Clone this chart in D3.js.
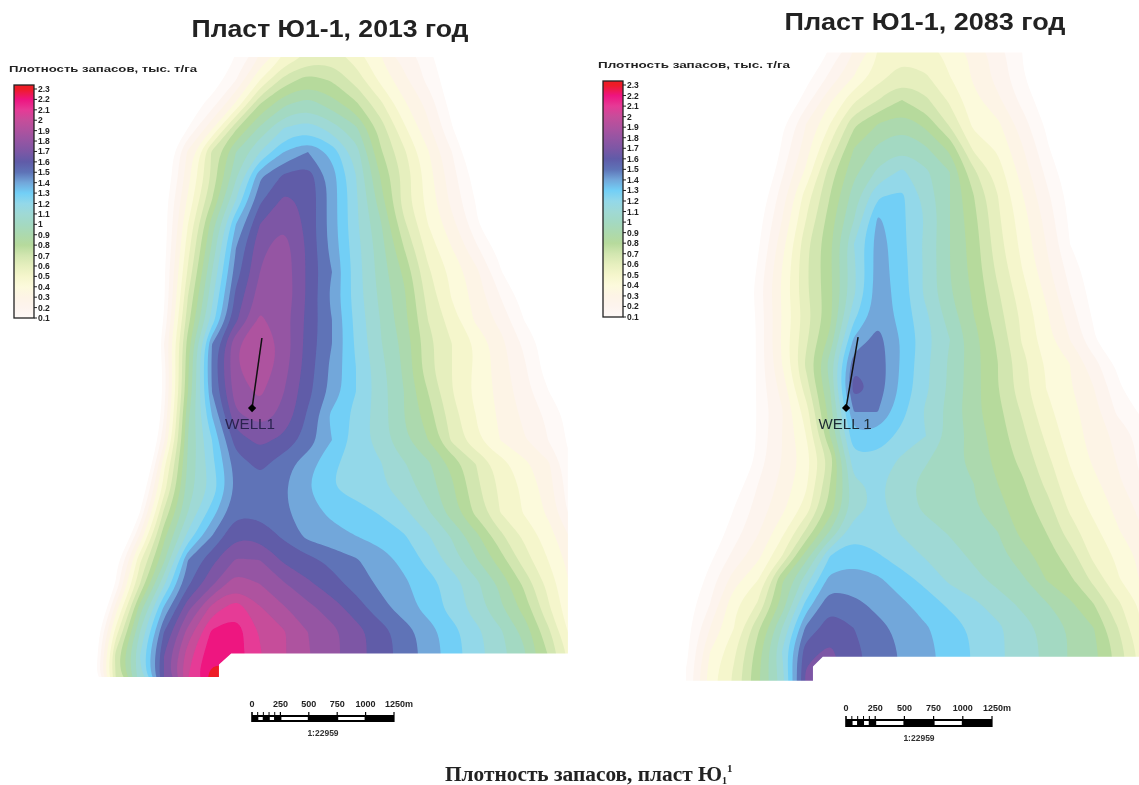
<!DOCTYPE html>
<html><head><meta charset="utf-8">
<style>html,body{margin:0;padding:0;background:#fff}svg{display:block}</style>
<script src="https://cdn.jsdelivr.net/npm/d3@7"></script></head>
<body><svg id="c" width="1139" height="785"></svg>
<script>
const titles = ["Пласт Ю1-1, 2013 год", "Пласт Ю1-1, 2083 год"];
const legendTitle = "Плотность запасов, тыс. т/га";
const wellName = ["WELL1", "WELL 1"];
const scaleRatio = "1:22959";
const scaleMetres = [0, 250, 500, 750, 1000, 1250];
const caption = "Плотность запасов, пласт Ю";
const levels = [0.1,0.2,0.3,0.4,0.5,0.6,0.7,0.8,0.9,1,1.1,1.2,1.3,1.4,1.5,1.6,1.7,1.8,1.9,2,2.1,2.2,2.3];
const levelColors = ["#fef9f7","#fdf4ee","#fdf4e6","#fcfadc","#f5f6cc","#e6efbe","#d2e6b0","#b6da9c","#acd9ae","#a3d9c2","#9fd9d5","#93d8e9","#72cff6","#72a7da","#5e73b7","#605ba8","#7d57a5","#9555a3","#ae529f","#c64d9a","#e63a96","#ee1480","#ee1c26"];

// Reservoir density, rows top to bottom, columns left to right.
// Negative cells lie outside the mapped field and only place its outer edge.
const density2013 = [
[0,0,0,0,0,-.1,.1,.3,.5,.62,.65,.55,.4,.25,.16,-.1,0,0,0,0,0],
[0,0,0,0,-.2,.02,.2,.5,.74,.85,.79,.66,.48,.33,.17,.03,-.2,0,0,0,0],
[0,0,0,-.2,.02,.15,.42,.8,.98,1.05,.95,.82,.63,.42,.27,.05,-.2,0,0,0,0],
[0,0,0,-.2,.1,.38,.78,1.02,1.2,1.26,1.15,1.02,.76,.52,.32,.11,-.2,0,0,0,0],
[0,0,-.3,-.03,.32,.72,1,1.2,1.4,1.5,1.36,1.15,.82,.62,.41,.2,-.03,0,0,0,0],
[0,0,-.3,-.03,.36,.72,1.08,1.48,1.62,1.66,1.45,1.2,.9,.67,.45,.24,.05,-.2,0,0,0],
[0,0,-.4,.04,.42,.8,1.2,1.58,1.72,1.68,1.45,1.22,.95,.65,.46,.27,.09,-.2,0,0,0],
[0,0,-.4,.04,.5,.95,1.4,1.7,1.79,1.67,1.45,1.22,1.02,.72,.5,.33,.13,-.2,0,0,0],
[0,0,-.4,.05,.56,1.02,1.5,1.78,1.85,1.68,1.46,1.24,1.05,.8,.56,.4,.22,.05,-.2,0,0],
[0,0,-.5,.08,.62,1.1,1.55,1.8,1.86,1.68,1.5,1.25,1.06,.88,.62,.47,.33,.12,-.2,0,0],
[0,0,-.5,.08,.7,1.17,1.63,1.85,1.87,1.68,1.47,1.25,1.08,.92,.66,.49,.36,.2,.05,-.2,0],
[0,0,-.5,.12,.76,1.24,1.68,1.92,1.84,1.67,1.5,1.27,1.1,.93,.7,.55,.38,.27,.1,-.2,0],
[0,0,-.45,.2,.85,1.5,1.89,1.99,1.86,1.66,1.5,1.28,1.11,.97,.74,.6,.49,.34,.18,.04,-.2],
[0,0,-.5,.15,.88,1.52,1.89,1.98,1.84,1.65,1.47,1.3,1.14,.98,.73,.6,.48,.35,.22,.04,-.2],
[0,0,-.5,.15,.9,1.5,1.86,1.92,1.8,1.63,1.47,1.3,1.15,1,.8,.6,.47,.37,.24,.11,-.15],
[0,0,-.5,.2,.98,1.4,1.78,1.84,1.78,1.58,1.37,1.27,1.15,1,.85,.65,.5,.38,.28,.18,.05],
[0,0,-.35,.27,1,1.3,1.65,1.73,1.67,1.56,1.4,1.26,1.15,1.02,.9,.68,.52,.4,.31,.2,.06],
[0,0,-.25,.47,1.02,1.27,1.55,1.63,1.54,1.44,1.32,1.25,1.21,1.11,1.02,.87,.7,.55,.43,.32,.1],
[0,-.3,-.05,.55,1.05,1.23,1.52,1.55,1.51,1.4,1.3,1.26,1.22,1.15,1.05,.92,.73,.58,.48,.35,.12],
[0,-.4,.1,.72,1.1,1.35,1.58,1.57,1.52,1.43,1.38,1.34,1.29,1.22,1.11,.95,.77,.6,.49,.38,.15],
[0,-.25,.32,.87,1.23,1.5,1.69,1.67,1.58,1.47,1.43,1.4,1.36,1.31,1.21,1.09,.93,.73,.58,.45,.28],
[-.2,.04,.58,.98,1.5,1.67,1.81,1.8,1.68,1.63,1.57,1.51,1.45,1.37,1.27,1.15,1.01,.85,.65,.5,.35],
[-.4,.12,.7,1.18,1.58,1.78,1.97,1.9,1.81,1.72,1.64,1.56,1.48,1.42,1.34,1.26,1.13,.98,.78,.57,.38],
[-.3,.35,.95,1.42,1.77,2.04,2.16,2.01,1.91,1.83,1.75,1.65,1.54,1.45,1.36,1.26,1.15,1.02,.86,.62,.4],
[-.1,.55,1.1,1.6,1.94,2.22,2.26,2.09,2.01,1.9,1.83,1.74,1.65,1.55,1.45,1.34,1.23,1.12,.97,.73,.45],
[-.1,.75,1.2,1.7,2.06,2.28,2.24,2.11,2.01,1.91,1.83,1.74,1.65,1.56,1.46,1.35,1.24,1.14,1.02,.8,.55],
[0,.7,1.15,1.7,2.1,2.36,2.34,2.11,2.01,1.91,1.83,1.74,1.65,1.56,1.46,1.35,1.24,1.14,1.02,.8,.55]
];
const density2083 = [
[0,0,0,0,0,-.2,.12,.3,.5,.55,.53,.48,.37,.25,.1,-.2,0,0,0,0],
[0,0,0,0,-.15,.05,.22,.4,.55,.66,.61,.5,.38,.26,.12,-.1,0,0,0,0],
[0,0,0,0,-.05,.15,.38,.58,.7,.8,.72,.58,.43,.32,.17,.03,-.2,0,0,0],
[0,0,0,-.2,.07,.3,.5,.78,.9,.97,.87,.68,.47,.42,.25,.08,-.2,0,0,0],
[0,0,0,-.2,.12,.35,.62,.9,1.02,1.09,1.01,.87,.57,.48,.31,.13,-.1,0,0,0],
[0,0,0,-.1,.18,.42,.75,.97,1.12,1.22,1.12,1,.72,.55,.36,.18,.02,-.2,0,0],
[0,0,-.2,0,.25,.55,.8,1.05,1.29,1.32,1.16,1,.8,.6,.41,.23,.06,-.2,0,0],
[0,0,-.2,.05,.3,.6,.85,1.1,1.42,1.32,1.19,1,.83,.62,.45,.27,.08,-.2,0,0],
[0,0,-.2,.08,.36,.67,.88,1.2,1.45,1.33,1.17,1,.85,.64,.47,.3,.1,-.2,0,0],
[0,0,-.2,.12,.4,.68,.88,1.18,1.45,1.34,1.18,1,.86,.67,.5,.33,.16,.02,-.2,0],
[0,0,-.1,.15,.42,.68,.87,1.18,1.46,1.35,1.17,1.01,.88,.71,.54,.38,.2,.05,-.2,0],
[0,0,-.15,.13,.4,.65,.87,1.27,1.47,1.36,1.22,1.05,.9,.74,.58,.42,.25,.08,-.2,0],
[0,0,-.2,.13,.42,.68,.93,1.42,1.54,1.39,1.24,1.1,.94,.78,.59,.44,.3,.12,-.15,0],
[0,0,-.2,.13,.4,.72,1.05,1.58,1.56,1.38,1.22,1.08,.94,.8,.64,.49,.4,.24,.07,-.2],
[0,0,-.2,.13,.34,.65,1,1.66,1.56,1.37,1.22,1.08,.94,.8,.64,.5,.41,.3,.13,-.05],
[0,0,-.2,.12,.29,.55,.95,1.5,1.5,1.33,1.18,1.06,.93,.83,.69,.53,.44,.34,.18,.08],
[0,0,-.2,.13,.3,.5,.9,1.38,1.36,1.27,1.2,1.07,.96,.85,.73,.58,.45,.36,.27,.16],
[0,0,-.2,.15,.3,.45,.73,1.27,1.27,1.18,1.11,1.04,.96,.87,.77,.63,.49,.38,.29,.17],
[0,-.2,.03,.2,.33,.48,.8,1.18,1.22,1.13,1.07,1.02,1,.9,.82,.68,.53,.43,.32,.2],
[0,-.15,.1,.24,.37,.54,.84,1.15,1.23,1.14,1.08,1.05,1.01,.93,.85,.75,.58,.47,.37,.27],
[-.15,.01,.15,.29,.47,.72,1.01,1.27,1.24,1.19,1.14,1.09,1.05,1,.87,.8,.65,.53,.41,.3],
[-.15,.07,.23,.37,.6,.95,1.3,1.37,1.31,1.25,1.19,1.14,1.08,1.03,.95,.85,.75,.57,.48,.37],
[-.05,.15,.35,.5,.89,1.15,1.44,1.44,1.42,1.34,1.27,1.18,1.13,1.07,1.02,.9,.82,.67,.51,.38],
[.03,.2,.48,.61,.93,1.33,1.58,1.53,1.47,1.42,1.35,1.28,1.22,1.15,1.08,1.01,.92,.8,.62,.48],
[.05,.3,.5,.78,1.1,1.52,1.65,1.6,1.53,1.47,1.41,1.35,1.28,1.22,1.14,1.07,.99,.9,.7,.49],
[.07,.4,.58,.85,1.2,1.67,1.72,1.63,1.55,1.49,1.43,1.36,1.29,1.22,1.15,1.08,.99,.93,.76,.55],
[.1,.45,.62,.88,1.15,1.72,1.75,1.63,1.55,1.49,1.43,1.36,1.29,1.22,1.15,1.08,.99,.93,.76,.55],
[.1,.45,.62,.88,1.15,1.72,1.75,1.63,1.55,1.49,1.43,1.36,1.29,1.22,1.15,1.08,.99,.93,.76,.55]
];
// Well track and outline of the mapped area, in grid cell units.
const wellTrack2013 = [[7.08,11.75],[6.67,14.67]];
const wellTrack2083 = [[7.17,11.88],[6.67,14.83]];
const outline2013 = [[0,.04],[19.83,.04],[19.83,24.9],[5.8,24.9],[5.29,25.35],[5.29,25.88],[0,25.88]];
const outline2083 = [[0,.02],[18.96,.02],[18.96,25.2],[5.7,25.2],[5.29,25.6],[5.29,26.2],[0,26.2]];

const svg = d3.select("#c");
const sans = "'Liberation Sans',Arial,sans-serif";
const defs = svg.append("defs");
const soft = defs.append("filter").attr("id","soft").attr("x","-5%").attr("y","-20%").attr("width","110%").attr("height","140%");
soft.append("feGaussianBlur").attr("stdDeviation",0.45);
const mapSoft = defs.append("filter").attr("id","mapSoft");
mapSoft.append("feGaussianBlur").attr("stdDeviation",0.5);

function drawMap(o){
  const rows=o.grid.length, cols=o.grid[0].length;
  const x=d3.scaleLinear().domain([0,cols-1]).range([o.x0,o.x0+o.step*(cols-1)]);
  const y=d3.scaleLinear().domain([0,rows-1]).range([o.y0,o.y0+o.step*(rows-1)]);
  const contours=d3.contours().size([cols,rows]).thresholds(levels).smooth(true)(o.grid.flat());
  const color=d3.scaleOrdinal().domain(levels).range(levelColors);
  const ringLine=d3.line().x(p=>x(p[0]-.5)).y(p=>y(p[1]-.5)).curve(d3.curveBasisClosed);
  const path=d=>d.coordinates.flatMap(poly=>poly.map(r=>ringLine(r.slice(0,-1)))).join("");
  defs.append("clipPath").attr("id","clip"+o.id).append("polygon")
    .attr("points",o.outline.map(p=>[x(p[0]),y(p[1])].join(",")).join(" "));
  svg.append("g").attr("clip-path",`url(#clip${o.id})`).append("g").attr("filter","url(#mapSoft)")
    .selectAll("path").data(contours).join("path")
    .attr("d",path).attr("fill-rule","evenodd").attr("fill",d=>color(d.value));

  // well
  svg.append("path").attr("d",d3.line().x(d=>x(d[0])).y(d=>y(d[1]))(o.well))
    .attr("fill","none").attr("stroke","#111").attr("stroke-width",1.5);
  const w=o.well[1];
  svg.append("path").attr("transform",`translate(${x(w[0])},${y(w[1])}) rotate(45)`)
    .attr("d",d3.symbol(d3.symbolSquare,34)()).attr("fill","#000");
  svg.append("text").attr("x",x(w[0])+o.wellDx).attr("y",y(w[1])+21).attr("text-anchor","middle")
    .attr("font-family",sans).attr("font-size",15.5).attr("fill",o.wellColor).attr("filter","url(#soft)")
    .attr("textLength",o.wellW).attr("lengthAdjust","spacingAndGlyphs").text(o.wellName);

  // title
  svg.append("text").attr("x",o.titleX).attr("y",o.titleY).attr("text-anchor","middle")
    .attr("font-family",sans).attr("font-weight","bold").attr("font-size",24).attr("fill","#222")
    .attr("textLength",o.titleW).attr("lengthAdjust","spacingAndGlyphs").attr("filter","url(#soft)").text(o.title);

  // legend
  const ly=d3.scaleLinear().domain([0.1,2.3]).range([o.lb,o.lt+4]);
  const gid="g"+o.id;
  const grad=defs.append("linearGradient").attr("id",gid).attr("x1",0).attr("x2",0).attr("y1",1).attr("y2",0);
  levels.forEach((l,i)=>grad.append("stop").attr("offset",(o.lb-ly(l))/(o.lb-o.lt)).attr("stop-color",levelColors[i]));
  svg.append("text").attr("x",o.lx-5).attr("y",o.lt-13).attr("font-family",sans).attr("font-weight","bold")
    .attr("font-size",9).attr("fill","#222").attr("textLength",o.ltw).attr("lengthAdjust","spacingAndGlyphs")
    .attr("filter","url(#soft)").text(legendTitle);
  svg.append("rect").attr("x",o.lx).attr("y",o.lt).attr("width",20).attr("height",o.lb-o.lt)
    .attr("fill",`url(#${gid})`).attr("stroke","#222").attr("stroke-width",1.3);
  const lg=svg.append("g").attr("filter","url(#soft)");
  levels.forEach(l=>{
    lg.append("line").attr("x1",o.lx+20).attr("x2",o.lx+23).attr("y1",ly(l)).attr("y2",ly(l)).attr("stroke","#222");
    lg.append("text").attr("x",o.lx+24).attr("y",ly(l)+3).attr("font-family",sans).attr("font-weight","bold")
      .attr("font-size",8.5).attr("fill","#222").text(l);
  });

  // scale bar
  const sx=d3.scaleLinear().domain([0,1250]).range([o.sx0,o.sx1]);
  const sb=svg.append("g").attr("filter","url(#soft)");
  scaleMetres.forEach(m=>{
    sb.append("text").attr("x",sx(m)+(m==1250?5:0)).attr("y",o.sy-5).attr("text-anchor","middle")
      .attr("font-family",sans).attr("font-weight","bold").attr("font-size",9).attr("fill","#222").text(m==1250?"1250m":m);
    sb.append("line").attr("x1",sx(m)).attr("x2",sx(m)).attr("y1",o.sy).attr("y2",o.sy+o.sh).attr("stroke","#000").attr("stroke-width",1.2);
  });
  sb.append("rect").attr("x",sx(0)).attr("y",o.sy+3).attr("width",sx(1250)-sx(0)).attr("height",o.sh-3).attr("fill","#000");
  d3.pairs(scaleMetres).forEach(([a,b],i)=>{
    if(i===0){
      d3.range(0,250,50).forEach((m,k)=>{
        if(k%2) sb.append("rect").attr("x",sx(m)+.5).attr("y",o.sy+5).attr("width",sx(m+50)-sx(m)-1).attr("height",o.sh-7).attr("fill","#fff");
        sb.append("line").attr("x1",sx(m)).attr("x2",sx(m)).attr("y1",o.sy).attr("y2",o.sy+o.sh).attr("stroke","#000");
      });
    } else if(i%2){
      sb.append("rect").attr("x",sx(a)+1).attr("y",o.sy+5).attr("width",sx(b)-sx(a)-2).attr("height",o.sh-7).attr("fill","#fff");
    }
  });
  sb.append("text").attr("x",(o.sx0+o.sx1)/2).attr("y",o.sy+o.sh+14).attr("text-anchor","middle")
    .attr("font-family",sans).attr("font-size",8.5).attr("font-weight","bold").attr("fill","#333").text(scaleRatio);
}

drawMap({id:"a",grid:density2013,x0:92,y0:56,step:24,outline:outline2013,well:wellTrack2013,wellName:wellName[0],wellDx:-2,wellW:50,wellColor:"#2b2350",
  title:titles[0],titleX:330,titleY:37,titleW:277,lx:14,lt:85,lb:318,ltw:188,sx0:252,sx1:394,sy:712,sh:10});
drawMap({id:"b",grid:density2083,x0:686,y0:52,step:24,outline:outline2083,well:wellTrack2083,wellName:wellName[1],wellDx:-1,wellW:53,wellColor:"#1c2b34",
  title:titles[1],titleX:925,titleY:30,titleW:281,lx:603,lt:81,lb:317,ltw:192,sx0:846,sx1:992,sy:716,sh:11});

// caption
const cap=svg.append("text").attr("x",445).attr("y",781).attr("font-family","'Liberation Serif','Times New Roman',serif")
  .attr("font-weight","bold").attr("font-size",20).attr("fill","#222").attr("filter","url(#soft)");
cap.append("tspan").attr("textLength",277).attr("lengthAdjust","spacingAndGlyphs").text(caption);
cap.append("tspan").attr("font-size",10).attr("dy",3).text("1");
cap.append("tspan").attr("font-size",11).attr("dy",-12).text("1");
</script></body></html>
